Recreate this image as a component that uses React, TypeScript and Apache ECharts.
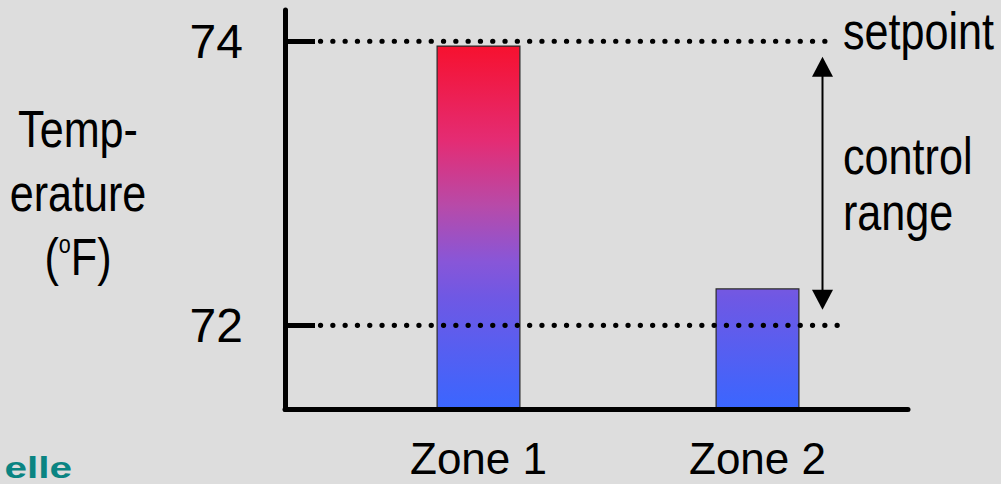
import React, { useEffect, useRef } from "react";
import * as echarts from "echarts";

// Zone temperatures (°F) and the axis values
const categories = ["Zone 1", "Zone 2"];
const temps = [73.97, 72.26];
const tickValues = [72, 74];
const setpoint = 74;
const lowerLimit = 72;
const yMin = 71.407;
const yMax = 74.22;

// Temperature colour ramp: value -> colour
const rampValues = [74.0, 73.3, 72.85, 72.45, 72.2, 71.4];
const rampColors = ["#f7102c", "#e42c74", "#b84aa8", "#8856d8", "#6f58e4", "#3a66ff"];

const FONT = "'Liberation Sans', Arial, sans-serif";
const BG = "#dddddd";

function hexToRgb(h: string) {
  const n = parseInt(h.slice(1), 16);
  return [(n >> 16) & 255, (n >> 8) & 255, n & 255];
}
function mix(a: string, b: string, t: number) {
  const ca = hexToRgb(a);
  const cb = hexToRgb(b);
  const c = ca.map((v, i) => Math.round(v + (cb[i] - v) * t));
  return `rgb(${c[0]},${c[1]},${c[2]})`;
}
function colorAt(v: number) {
  if (v >= rampValues[0]) return rampColors[0];
  for (let i = 0; i < rampValues.length - 1; i++) {
    const hi = rampValues[i];
    const lo = rampValues[i + 1];
    if (v <= hi && v >= lo) return mix(rampColors[i], rampColors[i + 1], (hi - v) / (hi - lo));
  }
  return rampColors[rampColors.length - 1];
}
function barGradient(v: number) {
  const span = v - yMin;
  const stops = [{ offset: 0, color: colorAt(v) }];
  rampValues.forEach((rv, i) => {
    if (rv < v && rv > yMin) stops.push({ offset: (v - rv) / span, color: rampColors[i] });
  });
  stops.push({ offset: 1, color: colorAt(yMin) });
  return { type: "linear", x: 0, y: 0, x2: 0, y2: 1, colorStops: stops };
}

export default function App() {
  const ref = useRef<HTMLDivElement>(null);

  useEffect(() => {
    if (!ref.current) return;
    const chart = echarts.init(ref.current, undefined, { renderer: "svg" });

    const gridTop = 10;
    const gridHeight = 399.5;

    chart.setOption({
      animation: false,
      backgroundColor: BG,
      grid: [
        { left: 285, top: gridTop, width: 623, height: gridHeight },
        { left: 339, top: gridTop, width: 558, height: gridHeight },
      ],
      xAxis: [
        {
          type: "value",
          gridIndex: 0,
          min: 0,
          max: 1,
          z: 10,
          axisLine: { show: true, lineStyle: { color: "#000", width: 5 } },
          axisTick: { show: false },
          axisLabel: { show: false },
          splitLine: { show: false },
        },
        {
          type: "category",
          gridIndex: 1,
          data: categories,
          axisLine: { show: false },
          axisTick: { show: false },
          axisLabel: { color: "#000", fontSize: 44, fontFamily: FONT, margin: 27 },
        },
      ],
      yAxis: [
        {
          type: "value",
          gridIndex: 0,
          min: yMin,
          max: yMax,
          z: 10,
          axisLine: { show: true, lineStyle: { color: "#000", width: 5 } },
          axisTick: {
            show: true,
            inside: true,
            length: 30,
            customValues: tickValues,
            lineStyle: { color: "#000", width: 5 },
          },
          axisLabel: {
            customValues: tickValues,
            color: "#000",
            fontSize: 48,
            fontFamily: FONT,
            margin: 42,
            padding: [12, 0, 0, 0],
          },
          splitLine: { show: false },
        },
        { type: "value", gridIndex: 1, min: yMin, max: yMax, show: false },
      ],
      series: [
        {
          type: "bar",
          xAxisIndex: 1,
          yAxisIndex: 1,
          barWidth: 84,
          data: temps.map((t) => ({
            value: t,
            itemStyle: { color: barGradient(t), borderColor: "#2a2a2a", borderWidth: 1.2 },
          })),
        },
      ],
    });

    const ySet = chart.convertToPixel({ yAxisIndex: 0 }, setpoint) as number;
    const yLow = chart.convertToPixel({ yAxisIndex: 0 }, lowerLimit) as number;

    const dotted = {
      stroke: "#000",
      lineWidth: 5.2,
      lineDash: [0.1, 12.2],
      lineCap: "round",
    };
    const arrowX = 822.5;
    const inset = 15.5;
    const head = 20;
    const textBase = { fill: "#000", fontSize: 52, fontFamily: FONT, verticalAlign: "middle" };

    chart.setOption({
      graphic: [
        { type: "line", shape: { x1: 320.5, y1: ySet, x2: 831, y2: ySet }, style: dotted, z: 20 },
        { type: "line", shape: { x1: 320.5, y1: yLow, x2: 839, y2: yLow }, style: dotted, z: 20 },
        // control-range arrow
        {
          type: "line",
          shape: { x1: arrowX, y1: ySet + inset + head - 2, x2: arrowX, y2: yLow - inset - head + 2 },
          style: { stroke: "#000", lineWidth: 2 },
        },
        {
          type: "polygon",
          shape: {
            points: [
              [arrowX, ySet + inset],
              [arrowX - 10.5, ySet + inset + head],
              [arrowX + 10.5, ySet + inset + head],
            ],
          },
          style: { fill: "#000" },
        },
        {
          type: "polygon",
          shape: {
            points: [
              [arrowX, yLow - inset],
              [arrowX - 10.5, yLow - inset - head],
              [arrowX + 10.5, yLow - inset - head],
            ],
          },
          style: { fill: "#000" },
        },
        { type: "text", x: 843, y: 31, scaleX: 0.83, style: { ...textBase, text: "setpoint", align: "left" } },
        { type: "text", x: 843, y: 156, scaleX: 0.83, style: { ...textBase, text: "control", align: "left" } },
        { type: "text", x: 843, y: 212, scaleX: 0.83, style: { ...textBase, text: "range", align: "left" } },
        // y-axis title
        { type: "text", x: 78, y: 129, scaleX: 0.83, style: { ...textBase, text: "Temp-", align: "center" } },
        { type: "text", x: 78, y: 193, scaleX: 0.83, style: { ...textBase, text: "erature", align: "center" } },
        {
          type: "text",
          x: 78,
          y: 257,
          scaleX: 0.83,
          style: {
            ...textBase,
            align: "center",
            text: "{n|(}{s|o}{n|F)}",
            rich: {
              n: { fontSize: 52, fontFamily: FONT, fill: "#000" },
              s: { fontSize: 26, fontFamily: FONT, fill: "#000", padding: [0, 0, 26, 0] },
            },
          },
        },
        // logo fragment
        {
          type: "text",
          x: 72,
          y: 483,
          scaleX: 1.35,
          style: {
            text: "elle",
            align: "right",
            verticalAlign: "bottom",
            fontSize: 30,
            fontWeight: "bold",
            fontFamily: FONT,
            fill: "#0a8482",
          },
        },
      ],
    });

    return () => chart.dispose();
  }, []);

  return (
    <div
      ref={ref}
      style={{ position: "fixed", left: 0, top: 0, width: 1001, height: 484, background: BG }}
    />
  );
}
